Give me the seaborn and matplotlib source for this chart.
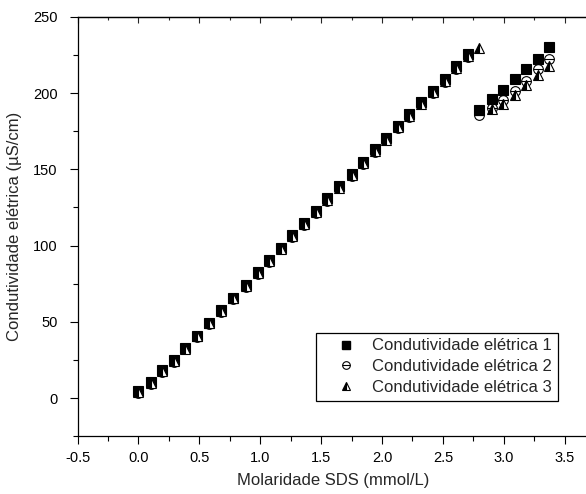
import matplotlib
matplotlib.use("Agg")
import matplotlib.pyplot as plt
import pandas as pd
import seaborn as sns
from matplotlib.lines import Line2D
from matplotlib.legend_handler import HandlerTuple
from matplotlib.ticker import MultipleLocator

# SDS concentration (mmol/L) for each conductivity reading
molaridade = [0.00, 0.10, 0.19, 0.29, 0.38, 0.48, 0.58, 0.68, 0.78, 0.88,
              0.98, 1.07, 1.17, 1.26, 1.36, 1.46, 1.55, 1.65, 1.75, 1.84,
              1.94, 2.03, 2.13, 2.22, 2.32, 2.42, 2.52, 2.61, 2.71, 2.80,
              2.90, 2.99, 3.09, 3.18, 3.28, 3.37]

# electrical conductivity (uS/cm), three replicate runs
condutividade_1 = [4.5, 10.5, 18.5, 25.0, 33.0, 41.0, 49.5, 57.5, 66.0, 74.0,
                   82.5, 90.5, 98.5, 107.0, 115.0, 123.0, 131.0, 139.0, 147.0, 155.0,
                   163.0, 170.5, 178.5, 186.0, 194.0, 201.5, 209.0, 217.5, 225.5, 189.0,
                   196.0, 202.0, 209.0, 216.0, 222.5, 230.0]
condutividade_2 = [3.5, 9.5, 17.5, 24.0, 32.0, 40.0, 48.5, 56.5, 65.0, 73.0,
                   81.5, 89.5, 97.5, 105.5, 113.5, 121.5, 129.5, 137.5, 145.5, 153.5,
                   161.5, 169.0, 177.0, 184.5, 192.5, 200.0, 207.5, 216.0, 223.5, 185.5,
                   190.5, 195.5, 201.5, 208.0, 215.5, 222.5]
condutividade_3 = [4.0, 10.0, 18.0, 24.5, 32.5, 40.5, 49.0, 57.0, 65.5, 73.5,
                   82.0, 90.0, 98.0, 106.0, 114.0, 122.0, 130.0, 138.0, 146.0, 154.0,
                   162.0, 169.5, 177.5, 185.0, 193.0, 200.5, 208.0, 216.5, 224.5, 229.5,
                   189.5, 193.0, 199.0, 205.0, 211.5, 217.5]

nomes = ["Condutividade elétrica 1", "Condutividade elétrica 2", "Condutividade elétrica 3"]

df = pd.DataFrame({
    "molaridade": molaridade,
    "c1": condutividade_1,
    "c2": condutividade_2,
    "c3": condutividade_3,
})

sns.set_style("ticks")
plt.rcParams["font.family"] = ["Liberation Sans", "DejaVu Sans"]
plt.rcParams["axes.unicode_minus"] = False

fig = plt.figure(figsize=(5.86, 4.94), dpi=100)
ax = fig.add_axes([0.1323, 0.1166, 0.8729, 0.8496])

ms = 7.0
common = dict(estimator=None, sort=False, linestyle="", color="black",
              markeredgecolor="black", markeredgewidth=0.8, legend=False, ax=ax)

# run 1: filled squares
sns.lineplot(data=df, x="molaridade", y="c1", marker="s", markersize=ms, **common)
# run 2: open circle crossed by a horizontal bar
sns.lineplot(data=df, x="molaridade", y="c2", marker="o", markersize=ms,
             fillstyle="none", **common)
sns.lineplot(data=df, x="molaridade", y="c2", marker="_", markersize=ms, **common)
# run 3: half-filled triangles
sns.lineplot(data=df, x="molaridade", y="c3", marker="^", markersize=ms,
             fillstyle="left", markerfacecolor="black",
             markerfacecoloralt="white", **common)

ax.set_xlim(-0.5, 3.7)
ax.set_ylim(-25, 250)
ax.xaxis.set_major_locator(MultipleLocator(0.5))
ax.xaxis.set_minor_locator(MultipleLocator(0.25))
ax.yaxis.set_major_locator(MultipleLocator(50))
ax.yaxis.set_minor_locator(MultipleLocator(25))
ax.set_xticks([-0.5, 0.0, 0.5, 1.0, 1.5, 2.0, 2.5, 3.0, 3.5])
ax.set_xticklabels(["-0.5", "0.0", "0.5", "1.0", "1.5", "2.0", "2.5", "3.0", "3.5"])

ax.tick_params(which="major", direction="out", length=6, width=0.8,
               labelsize=10.5, colors="black")
ax.tick_params(which="minor", direction="out", length=3.5, width=0.8, colors="black")
ax.tick_params(axis="x", which="major", pad=4.5)
ax.tick_params(axis="y", which="major", pad=8.5)
for s in ax.spines.values():
    s.set_linewidth(0.9)
    s.set_color("black")

top = ax.secondary_xaxis("top")
top.xaxis.set_major_locator(MultipleLocator(0.5))
top.xaxis.set_minor_locator(MultipleLocator(0.25))
top.tick_params(which="major", direction="in", length=4, width=0.8, labeltop=False)
top.tick_params(which="minor", direction="in", length=2, width=0.8)
top.spines["top"].set_linewidth(0.9)

ax.set_xlabel("Molaridade SDS (mmol/L)", fontsize=12, labelpad=6)
ax.set_ylabel("Condutividade elétrica (µS/cm)", fontsize=12, labelpad=8)

h1 = Line2D([], [], linestyle="", marker="s", markersize=5.5, color="black")
h2a = Line2D([], [], linestyle="", marker="o", markersize=5.5, fillstyle="none",
             markeredgecolor="black", markeredgewidth=0.8)
h2b = Line2D([], [], linestyle="", marker="_", markersize=5.5, color="black",
             markeredgewidth=0.8)
h3 = Line2D([], [], linestyle="", marker="^", markersize=5.5, fillstyle="left",
            markerfacecolor="black", markerfacecoloralt="white",
            markeredgecolor="black", markeredgewidth=0.8)
leg = ax.legend([h1, (h2a, h2b), h3], nomes,
                handler_map={tuple: HandlerTuple(ndivide=1)},
                loc="lower right", bbox_to_anchor=(0.9522, 0.1883),
                bbox_transform=fig.transFigure, fontsize=12,
                frameon=True, fancybox=False, edgecolor="black",
                borderpad=0.35, labelspacing=0.35, handlelength=3.0,
                handletextpad=0.05, borderaxespad=0)
leg.get_frame().set_linewidth(0.9)
leg.get_frame().set_alpha(1)

fig.savefig("out.png", dpi=100)
